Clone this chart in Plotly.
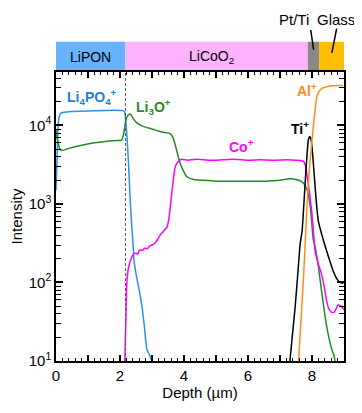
import plotly.graph_objects as go

# ---- data ----
li4po4_x = [0, 0.03, 0.06, 0.1, 0.15, 0.25, 0.5, 1.0, 1.5, 2.0, 2.1, 2.15, 2.19, 2.22, 2.27, 2.32, 2.37, 2.40, 2.44, 2.5, 2.6, 2.68, 2.76, 2.84, 2.92, 3.0]
li4po4_y = [1500, 3500, 9000, 13000, 14300, 14700, 15000, 15300, 15500, 15500, 15400, 14500, 10000, 7000, 3000, 1100, 500, 340, 186, 130, 80, 52, 28, 14, 12, 10]

li3o_x = [0, 0.05, 0.12, 0.2, 0.4, 0.8, 1.2, 1.6, 1.9, 2.05, 2.12, 2.18, 2.25, 2.32, 2.4, 2.5, 2.65, 2.8, 3.0, 3.2, 3.4, 3.55, 3.65, 3.75, 3.85, 3.95, 4.1, 4.3, 4.6, 5.0, 5.5, 6.0, 6.5, 7.0, 7.3, 7.5, 7.65, 7.75, 7.85, 7.95, 8.04, 8.1, 8.2, 8.3, 8.45, 8.55, 8.62, 8.68, 8.72]
li3o_y = [8700, 6500, 5000, 4800, 5100, 5600, 6000, 6300, 6400, 6500, 8000, 11500, 13500, 14000, 12500, 11000, 10000, 9500, 9000, 8500, 8100, 7900, 7100, 5200, 3600, 2800, 2200, 2050, 2000, 1950, 1950, 1950, 1950, 2000, 2100, 2050, 1950, 1800, 1500, 900, 350, 280, 160, 77, 29, 18, 14, 12, 10]

co_x = [2.15, 2.18, 2.21, 2.26, 2.32, 2.38, 2.47, 2.55, 2.62, 2.7, 2.78, 2.85, 2.92, 3.0, 3.09, 3.17, 3.25, 3.36, 3.46, 3.52, 3.57, 3.62, 3.67, 3.72, 3.8, 3.93, 4.1, 4.4, 4.8, 5.2, 5.6, 6.0, 6.4, 6.8, 7.2, 7.5, 7.73, 7.79, 7.84, 7.92, 8.0, 8.1, 8.2, 8.3, 8.4, 8.46, 8.52, 8.6, 8.7, 8.82, 8.9, 9.0]
co_y = [10, 30, 94, 150, 186, 215, 238, 230, 262, 255, 275, 268, 290, 300, 316, 350, 400, 450, 500, 620, 900, 1400, 2100, 2900, 3400, 3700, 3600, 3700, 3600, 3650, 3700, 3600, 3650, 3600, 3650, 3600, 3500, 3100, 2400, 1400, 740, 250, 170, 127, 80, 57, 47, 42, 42, 52, 50, 45]

ti_x = [7.31, 7.39, 7.47, 7.55, 7.63, 7.69, 7.74, 7.79, 7.84, 7.89, 7.93, 7.97, 8.0, 8.05, 8.1, 8.15, 8.2, 8.3, 8.36, 8.46, 8.56, 8.66, 8.77, 8.88, 8.98]
ti_y = [10, 22, 47, 120, 308, 450, 900, 1960, 4000, 6700, 7200, 6600, 5300, 3000, 1600, 900, 600, 415, 340, 250, 187, 140, 113, 100, 97]

al_x = [7.58, 7.66, 7.74, 7.79, 7.84, 7.89, 7.94, 8.0, 8.05, 8.1, 8.15, 8.22, 8.3, 8.45, 8.62, 8.8, 8.98]
al_y = [10, 35, 127, 330, 890, 1900, 3600, 6500, 10500, 16000, 23000, 27000, 29500, 31000, 32000, 32300, 32300]

x_tickvals = [0, 1, 2, 3, 4, 5, 6, 7, 8, 9]
x_ticktext = ["0", "", "2", "", "4", "", "6", "", "8", ""]
y_tickvals = [10, 100, 1000, 10000]
y_ticktext = ["10<sup>1</sup>", "10<sup>2</sup>", "10<sup>3</sup>", "10<sup>4</sup>"]
y_minor = [m * 10 ** e for e in range(1, 5) for m in range(2, 10)]

layers = [("LiPON", 0, 2.17, "#66b3ff"), ("LiCoO<sub>2</sub>", 2.17, 7.87, "#ffb3ff"),
          ("", 7.87, 8.22, "#888888"), ("", 8.22, 9.0, "#ffbf00")]

FONT = "Liberation Sans, Arial, sans-serif"

fig = go.Figure()
series = [
    (li4po4_x, li4po4_y, "#2b8ff0"),
    (li3o_x, li3o_y, "#228b22"),
    (co_x, co_y, "#ff00ff"),
    (ti_x, ti_y, "#000000"),
    (al_x, al_y, "#ff8c1a"),
]
for xs, ys, c in series:
    fig.add_trace(go.Scatter(x=xs, y=ys, mode="lines", line=dict(color=c, width=1.5, shape="spline", smoothing=0.5),
                             showlegend=False, hoverinfo="skip"))

shapes = []
annotations = []
BAND_TOP = 1.1045
for name, x0, x1, col in layers:
    shapes.append(dict(type="rect", xref="x", yref="paper", x0=x0, x1=x1, y0=1.0, y1=BAND_TOP,
                       fillcolor=col, line=dict(width=0), layer="below"))
    if name:
        annotations.append(dict(text=name, xref="x", yref="paper", x=(x0 + x1) / 2 - (0.15 if "Co" in name else 0),
                                y=(1 + BAND_TOP) / 2, xanchor="center", yanchor="middle", showarrow=False,
                                font=dict(size=14, color="black", family=FONT)))

# dashed interface line
shapes.append(dict(type="line", xref="x", yref="paper", x0=2.17, x1=2.17, y0=0, y1=1,
                   line=dict(color="#555555", width=1, dash="3px,2px")))
# pointer lines
shapes.append(dict(type="line", xref="x", yref="paper", x0=7.96, x1=8.05, y0=1.146, y1=1.077,
                   line=dict(color="black", width=1.5)))
shapes.append(dict(type="line", xref="x", yref="paper", x0=8.77, x1=8.62, y0=1.15, y1=1.066,
                   line=dict(color="black", width=1.5)))

def lab(text, x, y, color, size=14, xref="x", yref="y"):
    return dict(text=text, xref=xref, yref=yref, x=x, y=y, xanchor="center", yanchor="middle",
                showarrow=False, font=dict(size=size, color=color, family=FONT))

annotations += [
    lab("Pt/Ti", 7.45, 1.181, "black", 15, yref="paper"),
    lab("Glass", 8.75, 1.181, "black", 15, yref="paper"),
    lab("<b>Li<sub>4</sub>PO<sub>4</sub><sup>+</sup></b>", 1.12, 4.36, "#1f7fd8"),
    lab("<b>Li<sub>3</sub>O<sup>+</sup></b>", 3.04, 4.23, "#2a8a2a"),
    lab("<b>Co<sup>+</sup></b>", 5.8, 3.74, "#ff00ff"),
    lab("<b>Ti<sup>+</sup></b>", 7.62, 3.97, "black"),
    lab("<b>Al<sup>+</sup></b>", 7.83, 4.45, "#ff8c1a"),
]

fig.update_layout(
    width=354, height=405,
    margin=dict(l=48, r=18, t=64, b=52),
    paper_bgcolor="white", plot_bgcolor="white",
    font=dict(family=FONT, size=15, color="black"),
    shapes=shapes, annotations=annotations,
    xaxis=dict(range=[0, 9], showline=True, linecolor="black", linewidth=1.5, mirror="ticks",
               ticks="inside", ticklen=6, tickwidth=1.5, tickcolor="black", automargin=False,
               tickmode="array", tickvals=x_tickvals, ticktext=x_ticktext, showgrid=False, zeroline=False,
               minor=dict(dtick=0.2, tick0=0, ticks="inside", ticklen=3, tickwidth=1, tickcolor="black", showgrid=False),
               title=dict(text="Depth (µm)", font=dict(size=15), standoff=4), tickfont=dict(size=15)),
    yaxis=dict(type="log", range=[1, 4.68], showline=True, linecolor="black", linewidth=1.5, mirror="ticks",
               ticks="inside", ticklen=7, tickwidth=1.5, tickcolor="black", automargin=False,
               tickmode="array", tickvals=y_tickvals, ticktext=y_ticktext, showgrid=False, zeroline=False,
               minor=dict(tickmode="array", tickvals=y_minor, ticks="inside", ticklen=5, tickwidth=1, tickcolor="black", showgrid=False),
               title=dict(text="Intensity", font=dict(size=15), standoff=6), tickfont=dict(size=15)),
)

fig.write_html("out.html")
